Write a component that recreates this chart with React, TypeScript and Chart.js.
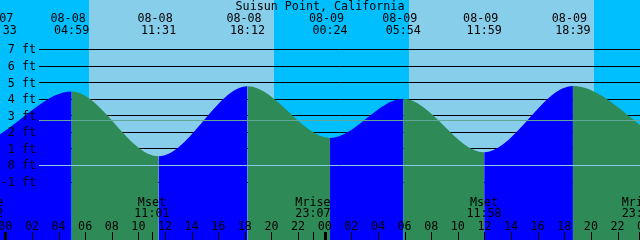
import React, { useEffect, useRef } from "react";
import { Chart, registerables } from "chart.js";

Chart.register(...registerables);

const title = "Suisun Point, California";

// hours since 08-08 00:00
const tideTimes = [-0.45, 4.983, 11.517, 18.2, 24.4, 29.9, 35.983, 42.65, 49.17];
const tideHeights = [1.87, 4.47, 0.56, 4.79, 1.67, 4.04, 0.8, 4.8, 1.6];
const tideDates = ["08-07", "08-08", "08-08", "08-08", "08-09", "08-09", "08-09", "08-09", "08-10"];
const tideClock = ["23:33", "04:59", "11:31", "18:12", "00:24", "05:54", "11:59", "18:39", "01:10"];

const nightStart = [-5, 20.19, 44.24];
const nightEnd = [6.29, 30.33, 54];

const moonTimes = [-1.467, 11.017, 23.117, 35.967, 47.633];
const moonNames = ["Mrise", "Mset", "Mrise", "Mset", "Mrise"];
const moonClock = ["22:32", "11:01", "23:07", "11:58", "23:38"];

const footLevels = [7, 6, 5, 4, 3, 2, 1, 0, -1];
const footLabels = ["7 ft", "6 ft", "5 ft", "4 ft", "3 ft", "2 ft", "1 ft", "0 ft", "-1 ft"];
const mslLevel = 2.72;

const hourTicks = [0, 2, 4, 6, 8, 10, 12, 14, 16, 18, 20, 22, 24, 26, 28, 30, 32, 34, 36, 38, 40, 42, 44, 46, 48];
const hourLabels = ["00", "02", "04", "06", "08", "10", "12", "14", "16", "18", "20", "22", "00", "02", "04", "06", "08", "10", "12", "14", "16", "18", "20", "22", "00"];

const X_MIN = -0.398;
const X_MAX = 47.69;
const Y_MIN = -4.5;
const Y_MAX = 10;

const DAY = "#87CEEB";
const NIGHT = "#00BFFF";
const RISE = "#0000FF";
const FALL = "#2E8B57";
const FONT = '11.7px "DejaVu Sans Mono"';

const tidePlugin = {
  id: "tidePlugin",
  beforeDraw(chart: any) {
    const ctx = chart.ctx;
    const xs = chart.scales.x;
    const ys = chart.scales.y;
    const W = chart.width;
    const H = chart.height;
    ctx.save();
    ctx.fillStyle = DAY;
    ctx.fillRect(0, 0, W, H);
    ctx.fillStyle = NIGHT;
    for (let i = 0; i < nightStart.length; i++) {
      const a = Math.round(xs.getPixelForValue(nightStart[i]));
      const b = Math.round(xs.getPixelForValue(nightEnd[i]));
      ctx.fillRect(a, 0, b - a, H);
    }
    ctx.strokeStyle = "#000";
    ctx.lineWidth = 1;
    for (const v of footLevels) {
      const py = Math.floor(ys.getPixelForValue(v)) + 0.5;
      ctx.beginPath();
      ctx.moveTo(39, py);
      ctx.lineTo(W, py);
      ctx.stroke();
    }
    ctx.restore();
  },
  afterDatasetsDraw(chart: any) {
    const ctx = chart.ctx;
    const xs = chart.scales.x;
    const ys = chart.scales.y;
    const W = chart.width;
    const H = chart.height;
    ctx.save();
    ctx.lineWidth = 1;
    // MSL line
    let py = Math.floor(ys.getPixelForValue(mslLevel)) + 0.5;
    ctx.strokeStyle = "#5fa898";
    ctx.beginPath();
    ctx.moveTo(39, py);
    ctx.lineTo(W, py);
    ctx.stroke();
    // datum line
    py = Math.floor(ys.getPixelForValue(0)) + 0.5;
    ctx.strokeStyle = "#88c8e8";
    ctx.beginPath();
    ctx.moveTo(39, py);
    ctx.lineTo(W, py);
    ctx.stroke();

    ctx.fillStyle = "#000";
    ctx.font = FONT;
    ctx.textBaseline = "alphabetic";

    // foot labels
    ctx.textAlign = "right";
    footLevels.forEach((v, i) => {
      const ly = ys.getPixelForValue(v);
      ctx.fillText(footLabels[i], 36, Math.round(ly + 3.8));
    });

    ctx.textAlign = "center";
    ctx.fillText(title, W / 2, 10);

    // tide event labels (only events inside the plotted span)
    tideTimes.forEach((t, i) => {
      if (t > X_MAX) return;
      const px = xs.getPixelForValue(t);
      ctx.fillText(tideDates[i], px - 3.5, 22);
      ctx.fillText(tideClock[i], px, 34);
    });

    // moon labels and ticks
    moonTimes.forEach((t, i) => {
      const px = xs.getPixelForValue(t);
      ctx.fillText(moonNames[i], px, 206);
      ctx.fillText(moonClock[i], px, 217);
      ctx.fillRect(Math.round(px), 232, 1, H - 232);
    });

    // hour labels and ticks
    hourTicks.forEach((h, i) => {
      const px = xs.getPixelForValue(h);
      ctx.fillText(hourLabels[i], px, 230);
      if (h % 24 === 0) {
        ctx.fillRect(Math.round(px) - 1, 232, 3, H - 232);
      } else {
        ctx.fillRect(Math.round(px), 232, 1, H - 232);
      }
    });
    ctx.restore();
  },
};

export default function App() {
  const ref = useRef<HTMLCanvasElement | null>(null);
  useEffect(() => {
    document.body.style.margin = "0";
    const canvas = ref.current;
    if (!canvas) return;
    const points = tideTimes.map((t, i) => ({ x: t, y: tideHeights[i] }));
    const chart = new Chart(canvas, {
      type: "line",
      data: {
        datasets: [
          {
            data: points,
            borderWidth: 0,
            borderColor: "rgba(0,0,0,0)",
            pointRadius: 0,
            fill: "start",
            backgroundColor: FALL,
            cubicInterpolationMode: "monotone",
            segment: {
              backgroundColor: (c: any) => (c.p1.parsed.y > c.p0.parsed.y ? RISE : FALL),
            },
          } as any,
        ],
      },
      options: {
        responsive: false,
        devicePixelRatio: 1,
        animation: false,
        events: [],
        layout: { padding: 0 },
        scales: {
          x: { type: "linear", min: X_MIN, max: X_MAX, display: false },
          y: { type: "linear", min: Y_MIN, max: Y_MAX, display: false },
        },
        plugins: {
          legend: { display: false },
          tooltip: { enabled: false },
          title: { display: false },
        },
      },
      plugins: [tidePlugin],
    });
    return () => chart.destroy();
  }, []);
  return (
    <div style={{ position: "absolute", left: 0, top: 0, width: 640, height: 240 }}>
      <canvas ref={ref} width={640} height={240} style={{ width: 640, height: 240, display: "block" }} />
    </div>
  );
}
